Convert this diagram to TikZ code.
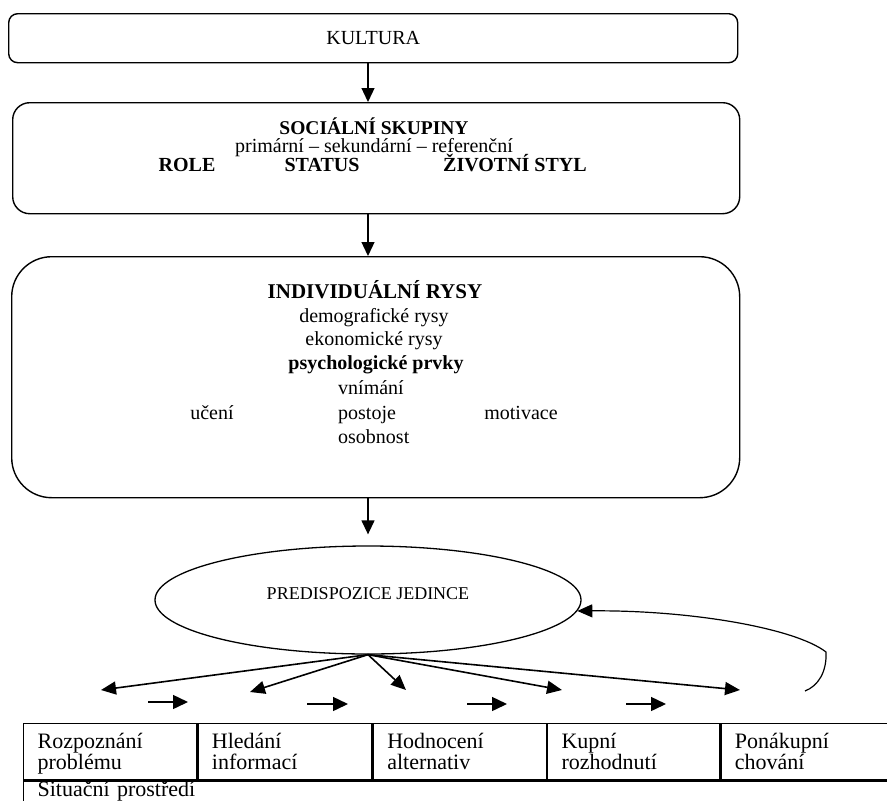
\documentclass[tikz,border=0pt]{standalone}
\usepackage{fontspec}
\setmainfont{Liberation Serif}
\usepackage{tikz}
\usetikzlibrary{arrows.meta, shapes.geometric}

\begin{document}
\begin{tikzpicture}[x=1pt, y=-1pt, font=\fontsize{20}{22}\selectfont,
		box/.style={draw, line width=1.4pt, anchor=north west, inner sep=0pt},
		txt/.style={anchor=base, inner sep=0pt},
		down/.style={-{Triangle[length=14pt,width=13pt]}, line width=1.3pt},
		fan/.style={-{Triangle[length=15pt,width=13pt]}, line width=1.6pt},
		next/.style={-{Triangle[length=15pt,width=14pt]}, line width=1.5pt},
		back/.style={-{Triangle[length=15pt,width=13pt]}, line width=1.2pt},
		cell/.style={draw, line width=1.3pt, anchor=north west, text width=#1,
			minimum height=56pt, inner xsep=14pt, inner ysep=0pt, align=left,
			font=\fontsize{22}{21}\selectfont,
			execute at begin node={\rule{0pt}{21pt}},
			execute at end node={\rule[-6pt]{0pt}{6pt}}}]
		\useasboundingbox (0,0) rectangle (887,801);
		
		% Kultura
		\node[box, rounded corners=9pt, minimum width=729pt, minimum height=49pt] (kultura) at (8,13) {KULTURA}; % horni ramecek
		
		% Socialni skupiny
		\node[box, rounded corners=17pt, minimum width=727pt, minimum height=111pt] (social) at (12,102) {}; % druhy ramecek
		\node[txt, font=\fontsize{19.5}{21}\selectfont\bfseries] (socT) at (374,134) {SOCIÁLNÍ SKUPINY};
		\node[txt] (socA) at (374,152) {primární – sekundární – referenční};
		\node[txt, font=\fontsize{20}{22}\selectfont\bfseries] (role) at (187,171) {ROLE};
		\node[txt, font=\fontsize{20}{22}\selectfont\bfseries] (status) at (322,171) {STATUS};
		\node[txt, font=\fontsize{20}{22}\selectfont\bfseries] (styl) at (515,171) {ŽIVOTNÍ STYL};
		
		% Individualni rysy
		\node[box, rounded corners=40pt, minimum width=728pt, minimum height=241pt] (indiv) at (11,256) {}; % velky ramecek
		\node[txt, font=\fontsize{21}{23}\selectfont\bfseries] (indT) at (375,298) {INDIVIDUÁLNÍ RYSY};
		\node[txt] (demo) at (374,322) {demografické rysy};
		\node[txt] (ekon) at (374,345) {ekonomické rysy};
		\node[txt, font=\fontsize{20}{22}\selectfont\bfseries] (psych) at (376,369) {psychologické prvky};
		\node[txt, anchor=base west] (vnim) at (338,394) {vnímání};
		\node[txt] (uceni) at (212,419) {učení};
		\node[txt, anchor=base west] (postoje) at (338,419) {postoje};
		\node[txt] (motiv) at (521,419) {motivace};
		\node[txt, anchor=base west] (osob) at (338,443) {osobnost};
		
		% Predispozice
		\node[draw, ellipse, line width=1.3pt, minimum width=426pt, minimum height=108pt, inner sep=0pt] (pred) at (368,600) {}; % elipsa
		\node[txt, font=\fontsize{18}{20}\selectfont] (predT) at (368,599) {PREDISPOZICE JEDINCE};
		
		% Sipky dolu
		\draw[down] (kultura.south -| pred.center) -- (social.north -| pred.center);
		\draw[down] (social.south -| pred.center) -- (indiv.north -| pred.center);
		\draw[down] (indiv.south -| pred.center) -- ([yshift=11pt]pred.north);
		
		% Vejir sipek
		\coordinate (f1) at (101,690);
		\coordinate (f2) at (250,692);
		\coordinate (f3) at (406,690);
		\coordinate (f4) at (562,690);
		\coordinate (f5) at (740,690);
		\foreach \k in {f1,f2,f3,f4,f5}
			\draw[fan] (pred.south) -- (\k);
		
		% Male sipky mezi fazemi
		\foreach \a/\b/\y in {148/188/702, 307/348/704, 467/507/704, 626/666/704}
			\draw[next] (\a,\y) -- (\b,\y);
		
		% Zpetna vazba
		\coordinate (zpet) at (805,691);
		\draw[back] (zpet) .. controls (818,686) and (827,672) .. (826,652) .. controls (795,628) and (690,610) .. (pred.-3);
		
		% Tabulka faze nakupu
		\node[cell=145pt] (c1) at (23,723) {Rozpoznání\\problému};
		\node[cell=146pt] (c2) at (c1.north east) {Hledání\\informací};
		\node[cell=145pt] (c3) at (c2.north east) {Hodnocení\\alternativ};
		\node[cell=144pt] (c4) at (c3.north east) {Kupní\\rozhodnutí};
		\node[cell=152pt] (c5) at (c4.north east) {Ponákupní\\chování};
		\node[draw, line width=1.3pt, anchor=north west, text width=844pt, inner xsep=14pt, inner ysep=0pt, align=left, font=\fontsize{22}{21}\selectfont] (sit) at (c1.south west) {\rule{0pt}{16pt}Situační prostředí\rule[-12pt]{0pt}{12pt}};
	\end{tikzpicture}
\end{document}
